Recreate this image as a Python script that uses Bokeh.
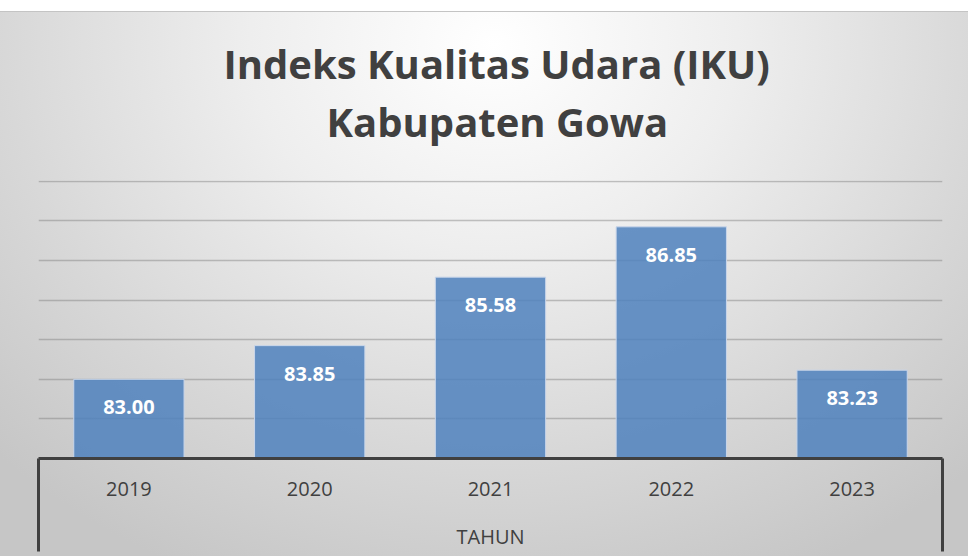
from bokeh.plotting import figure
from bokeh.models import FixedTicker, Range1d, LabelSet, ColumnDataSource, Title
from bokeh.core.properties import value
from bokeh.embed import file_html
from bokeh.resources import INLINE

# ---- data ----
years = ["2019", "2020", "2021", "2022", "2023"]
iku = [83.00, 83.85, 85.58, 86.85, 83.23]
y_min, y_max = 81, 88
title_lines = ["Indeks Kualitas Udara (IKU)", "Kabupaten Gowa"]
x_axis_title = "TAHUN"

xpos = [i + 0.5 for i in range(len(years))]
src = ColumnDataSource(dict(x=xpos, top=iku, lab=[f"{v:.2f}" for v in iku]))

y_top = y_max + 0.02
p = figure(width=968, height=556, output_backend="svg", toolbar_location=None,
           x_range=Range1d(0, len(years)), y_range=Range1d(y_min, y_top),
           y_axis_location=None,
           min_border_left=38, min_border_right=26, min_border_top=180, min_border_bottom=98)

p.border_fill_color = None
p.background_fill_color = None
p.outline_line_color = None
p.styles = {
    "background": "linear-gradient(to bottom, #ffffff 0px, #ffffff 11px, #c4c4c4 11px, #c4c4c4 12px, transparent 12px), "
                  "radial-gradient(ellipse 72% 105% at 51% 8%, #ffffff 0%, #eeeeee 35%, #d8d8d8 70%, #c6c6c6 100%)"
}

p.xgrid.visible = False
p.ygrid.ticker = FixedTicker(ticks=list(range(y_min, y_max + 1)))
p.ygrid.grid_line_color = "#7f7f7f"
p.ygrid.grid_line_alpha = 0.45
p.ygrid.grid_line_width = 1.5

p.vbar(x="x", top="top", bottom=y_min, width=0.61, source=src,
       fill_color="#4f81bd", fill_alpha=0.85, line_color="#c9d6ea", line_width=1)

p.add_layout(LabelSet(x="x", y="top", text="lab", source=src, y_offset=-28,
                      text_align="center", text_baseline="middle",
                      text_font=value("Open Sans"), text_font_style="bold",
                      text_font_size="20px", text_color="#ffffff"))

ax = p.xaxis[0]
ax.ticker = FixedTicker(ticks=xpos, minor_ticks=[0, len(years)])
ax.major_label_overrides = {x: y for x, y in zip(xpos, years)}
ax.major_tick_line_color = None
ax.major_tick_out = 0
ax.major_tick_in = 0
ax.minor_tick_in = 0
ax.minor_tick_out = 93
ax.minor_tick_line_width = 3
ax.minor_tick_line_color = "#404040"
ax.axis_line_width = 3
ax.axis_line_color = "#404040"
ax.major_label_text_font = "Open Sans"
ax.major_label_text_font_size = "20px"
ax.major_label_text_color = "#404040"
ax.major_label_standoff = -70
ax.axis_label = x_axis_title
ax.axis_label_text_font = "Open Sans"
ax.axis_label_text_font_style = "normal"
ax.axis_label_text_font_size = "20px"
ax.axis_label_text_color = "#404040"
ax.axis_label_standoff = 24

# two title lines stacked above the plot area (second line nearest the frame)
for txt, stand, off in zip(reversed(title_lines), [63, -61], [288, 185]):
    p.add_layout(Title(text=txt, align="left", offset=off, standoff=stand,
                       text_font="Open Sans", text_font_style="bold",
                       text_font_size="40px", text_color="#404040"), "above")

open("out.html", "w").write(file_html(p, INLINE))
